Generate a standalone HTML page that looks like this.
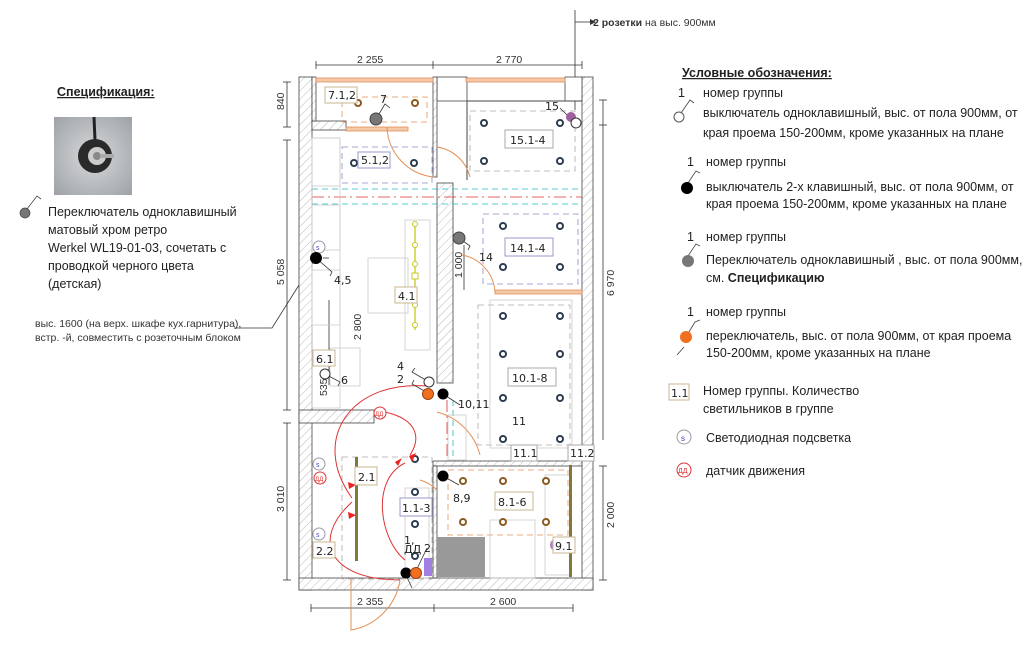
<!DOCTYPE html>
<html><head><meta charset="utf-8"><style>
body{margin:0;background:#fff;}
svg{display:block;font-family:"Liberation Sans","Noto Sans CJK SC",sans-serif;}
.t{font-size:12.5px;fill:#222;font-family:"Liberation Sans",sans-serif;}
.d{font-size:10.5px;fill:#333;font-family:"Liberation Sans",sans-serif;}
.lb{font-size:11px;fill:#222;font-family:"DejaVu Sans",sans-serif;}
</style></head><body>
<svg width="1024" height="645" viewBox="0 0 1024 645" xmlns="http://www.w3.org/2000/svg">
<defs>
<pattern id="h" width="6" height="6" patternUnits="userSpaceOnUse" patternTransform="rotate(45)">
<rect width="6" height="6" fill="#fff"/><line x1="0" y1="0" x2="0" y2="6" stroke="#aaa" stroke-width="0.8"/></pattern>
<radialGradient id="ph" cx="0.5" cy="0.5" r="0.7"><stop offset="0" stop-color="#d8dadc"/><stop offset="1" stop-color="#9ea2a6"/></radialGradient>
</defs>

<!-- LEFT spec -->
<text x="57" y="96" class="t" font-weight="bold" text-decoration="underline">Спецификация:</text>
<rect x="54" y="117" width="78" height="78" fill="url(#ph)"/>
<line x1="94" y1="117" x2="95" y2="140" stroke="#222" stroke-width="3"/>
<circle cx="95" cy="156" r="17" fill="#2a2a2a"/>
<circle cx="97" cy="156" r="9" fill="#ccc"/>
<circle cx="97" cy="156" r="4" fill="#888"/>
<rect x="100" y="154" width="14" height="4" fill="#aaa"/>
<circle cx="25" cy="213" r="5" fill="#777" stroke="#444" stroke-width="0.7"/>
<polyline points="27,209 37,196 41,199" fill="none" stroke="#444" stroke-width="0.8"/>
<text class="t"><tspan x="48" y="216">Переключатель одноклавишный</tspan><tspan x="48" y="234">матовый хром ретро</tspan><tspan x="48" y="252">Werkel WL19-01-03, сочетать с</tspan><tspan x="48" y="270">проводкой черного цвета</tspan><tspan x="48" y="288">(детская)</tspan></text>
<text class="d" font-size="10"><tspan x="35" y="327">выс. 1600 (на верх. шкафе кух.гарнитура),</tspan><tspan x="35" y="341">встр. -й, совместить с розеточным блоком</tspan></text>
<polyline points="234,328 272,328 316,258" fill="none" stroke="#333" stroke-width="0.8"/>

<!-- dimensions -->
<g stroke="#333" stroke-width="0.8" fill="none">
<line x1="316" y1="65" x2="582" y2="65"/>
<line x1="316" y1="61" x2="316" y2="69"/><line x1="433" y1="61" x2="433" y2="69"/><line x1="582" y1="61" x2="582" y2="69"/>
<line x1="311" y1="608" x2="573" y2="608"/>
<line x1="311" y1="604" x2="311" y2="612"/><line x1="434" y1="604" x2="434" y2="612"/><line x1="573" y1="604" x2="573" y2="612"/>
<line x1="287" y1="82" x2="287" y2="127"/><line x1="287" y1="140" x2="287" y2="410"/><line x1="287" y1="423" x2="287" y2="580"/>
<line x1="283" y1="82" x2="291" y2="82"/><line x1="283" y1="127" x2="291" y2="127"/><line x1="283" y1="140" x2="291" y2="140"/><line x1="283" y1="410" x2="291" y2="410"/><line x1="283" y1="423" x2="291" y2="423"/><line x1="283" y1="580" x2="291" y2="580"/>
<line x1="603" y1="100" x2="603" y2="125"/><line x1="603" y1="125" x2="603" y2="440"/><line x1="603" y1="466" x2="603" y2="580"/>
<line x1="599" y1="100" x2="607" y2="100"/><line x1="599" y1="125" x2="607" y2="125"/><line x1="599" y1="466" x2="607" y2="466"/><line x1="599" y1="580" x2="607" y2="580"/>
<line x1="329" y1="300" x2="329" y2="385"/><line x1="323" y1="258" x2="329" y2="258"/>
<line x1="464" y1="245" x2="464" y2="290"/>
<line x1="575" y1="10" x2="575" y2="110"/><line x1="575" y1="22" x2="590" y2="22"/>
</g>
<polygon points="590,19 596,22 590,25" fill="#333"/>
<text x="593" y="26" class="d"><tspan font-weight="bold">2 розетки</tspan> на выс. 900мм</text>
<text x="357" y="63" class="d">2 255</text><text x="496" y="63" class="d">2 770</text>
<text x="357" y="605" class="d">2 355</text><text x="490" y="605" class="d">2 600</text>
<text class="d" transform="translate(284,110) rotate(-90)">840</text>
<text class="d" transform="translate(284,285) rotate(-90)">5 058</text>
<text class="d" transform="translate(284,512) rotate(-90)">3 010</text>
<text class="d" transform="translate(614,296) rotate(-90)">6 970</text>
<text class="d" transform="translate(614,528) rotate(-90)">2 000</text>
<text class="d" transform="translate(591,122) rotate(-90)">450</text>
<text class="d" transform="translate(361,340) rotate(-90)">2 800</text>
<text class="d" transform="translate(462,278) rotate(-90)">1 000</text>
<text class="d" transform="translate(327,396) rotate(-90)">535</text>

<!-- walls -->
<g fill="url(#h)" stroke="#444" stroke-width="0.8">
<rect x="299" y="77" width="13" height="513"/>
<rect x="582" y="77" width="11" height="513"/>
<rect x="299" y="578" width="294" height="12"/>
<rect x="312" y="121" width="34" height="9"/>
<rect x="437" y="77" width="30" height="24" fill="#fff"/>
<rect x="437" y="183" width="16" height="200"/>
<rect x="299" y="410" width="75" height="13"/>
<rect x="433" y="461" width="149" height="5"/>
<rect x="433" y="466" width="4" height="112"/>
<rect x="433" y="77" width="4" height="100"/>
<rect x="312" y="77" width="4" height="44"/>
<rect x="565" y="77" width="17" height="24" fill="#fff"/>
</g>
<line x1="467" y1="101" x2="582" y2="101" stroke="#444"/>
<line x1="467" y1="101" x2="467" y2="180" stroke="#444"/>
<!-- orange window strips -->
<g fill="#f3c9a8" stroke="#e39056" stroke-width="0.8">
<rect x="316" y="78" width="117" height="4"/><rect x="466" y="78" width="99" height="4"/>
<rect x="346" y="127" width="62" height="4"/><rect x="495" y="290" width="87" height="4"/>
</g>
<!-- doors -->
<g fill="none" stroke="#e39056" stroke-width="1">
<path d="M387,127 A52,52 0 0 0 434,177"/><path d="M437,147 A40,40 0 0 1 470,177"/>
<path d="M462,255 A40,40 0 0 1 495,292"/>
<path d="M437,412 A60,60 0 0 1 480,455"/>
<path d="M437,490 A40,40 0 0 0 420,480"/>
<path d="M351,578 L351,630 A60,60 0 0 0 400,580"/>
</g>
<!-- dashed zones -->
<g fill="none" stroke-width="0.8" stroke-dasharray="6,4">
<rect x="342" y="97" width="85" height="25" stroke="#e39056"/>
<rect x="342" y="147" width="90" height="36" stroke="#8a8ac8"/>
<rect x="470" y="111" width="105" height="60" stroke="#aaa"/>
<rect x="483" y="214" width="95" height="70" stroke="#8a8ac8"/>
<rect x="478" y="305" width="92" height="140" stroke="#aaa"/>
<rect x="448" y="470" width="120" height="65" stroke="#e39056"/>
<rect x="342" y="457" width="90" height="122" stroke="#aaa"/>
<line x1="312" y1="189" x2="582" y2="189" stroke="#2bb"/>
<line x1="312" y1="204" x2="582" y2="204" stroke="#2bb"/>
<line x1="312" y1="197" x2="582" y2="197" stroke="#d33" stroke-dasharray="12,4,2,4"/>
<line x1="447" y1="400" x2="447" y2="460" stroke="#d33" stroke-dasharray="12,4,2,4"/>
<line x1="453" y1="400" x2="453" y2="460" stroke="#2bb"/>
</g>
<!-- furniture (light) -->
<g fill="none" stroke="#ccc" stroke-width="0.8">
<rect x="312" y="138" width="28" height="270"/><rect x="312" y="138" width="28" height="48"/>
<rect x="312" y="205" width="28" height="45"/><rect x="312" y="270" width="28" height="55"/>
<rect x="368" y="258" width="40" height="55"/><rect x="405" y="220" width="25" height="130"/>
<rect x="330" y="348" width="30" height="38"/>
<rect x="490" y="300" width="82" height="148"/><rect x="448" y="415" width="18" height="45"/>
<rect x="545" y="475" width="25" height="100"/><rect x="490" y="520" width="45" height="58"/>
<rect x="405" y="488" width="24" height="90"/>
</g>
<rect x="437" y="537" width="48" height="40" fill="#999"/>
<rect x="355" y="457" width="3" height="104" fill="#7d7a3a"/>
<rect x="569" y="465" width="3" height="112" fill="#7d7a3a"/>
<line x1="415" y1="225" x2="415" y2="330" stroke="#c8c820" stroke-width="1.3"/>
<g fill="#fff" stroke="#c8c820"><circle cx="415" cy="224" r="2.5"/><circle cx="415" cy="245" r="2.5"/><circle cx="415" cy="264" r="2.5"/><rect x="412" y="273" width="6" height="6"/><circle cx="415" cy="305" r="2.5"/><circle cx="415" cy="325" r="2.5"/></g>

<!-- light dots -->
<g fill="#fff" stroke="#2d3d50" stroke-width="2">
<circle cx="484" cy="123" r="3"/><circle cx="560" cy="123" r="3"/><circle cx="484" cy="161" r="3"/><circle cx="560" cy="161" r="3"/>
<circle cx="503" cy="226" r="3"/><circle cx="560" cy="226" r="3"/><circle cx="503" cy="267" r="3"/><circle cx="560" cy="267" r="3"/>
<circle cx="503" cy="316" r="3"/><circle cx="560" cy="316" r="3"/><circle cx="503" cy="354" r="3"/><circle cx="560" cy="354" r="3"/>
<circle cx="503" cy="398" r="3"/><circle cx="560" cy="398" r="3"/><circle cx="503" cy="439" r="3"/><circle cx="560" cy="439" r="3"/>
<circle cx="354" cy="163" r="3"/><circle cx="414" cy="163" r="3"/>
<circle cx="415" cy="459" r="3"/><circle cx="415" cy="492" r="3"/><circle cx="415" cy="524" r="3"/><circle cx="415" cy="556" r="3"/>
</g>
<g fill="#fff" stroke="#8a5a20" stroke-width="2">
<circle cx="358" cy="103" r="3"/><circle cx="415" cy="103" r="3"/>
<circle cx="463" cy="481" r="3"/><circle cx="503" cy="481" r="3"/><circle cx="546" cy="481" r="3"/>
<circle cx="463" cy="522" r="3"/><circle cx="503" cy="522" r="3"/><circle cx="546" cy="522" r="3"/>
</g>

<!-- motion arcs -->
<g fill="none" stroke="#d33" stroke-width="1">
<path d="M427,386 C350,380 310,440 352,498"/>
<path d="M385,412 C420,420 420,440 410,455"/>
<path d="M405,463 C370,480 380,540 405,560"/>
<path d="M352,502 C310,540 330,580 400,580"/>
</g>
<g fill="#e22"><polygon points="409,456 416,453 412,462"/><polygon points="395,462 402,458 398,466"/><polygon points="348,482 356,485 349,489"/><polygon points="348,512 356,515 349,519"/></g>
<circle cx="380" cy="413" r="6" fill="#fff" stroke="#d33"/><text x="375" y="416" font-size="6" fill="#d33">ДД</text>
<circle cx="320" cy="478" r="6" fill="#fff" stroke="#d33"/><text x="315" y="481" font-size="6" fill="#d33">ДД</text>
<g fill="#fff" stroke="#99a"><circle cx="319" cy="247" r="6"/><circle cx="319" cy="464" r="6"/><circle cx="319" cy="534" r="6"/></g>
<g font-size="7" fill="#44c"><text x="316" y="250">s</text><text x="316" y="467">s</text><text x="316" y="537">s</text></g>

<!-- switches -->
<g stroke="#333" stroke-width="0.8" fill="none">
<polyline points="376,119 385,104 390,108"/><polyline points="459,238 470,246 468,250"/>
<polyline points="316,258 332,272 330,276"/><polyline points="325,374 340,382 338,386"/>
<polyline points="429,382 412,372 415,368"/><polyline points="428,393 412,384 414,380"/>
<polyline points="443,394 460,405"/><polyline points="443,476 459,485"/>
<polyline points="405,573 412,588"/><polyline points="415,573 427,548"/>
<polyline points="575,123 560,108"/>
</g>
<circle cx="376" cy="119" r="6" fill="#777" stroke="#444"/>
<circle cx="459" cy="238" r="6" fill="#777" stroke="#444"/>
<circle cx="316" cy="258" r="6" fill="#000"/>
<circle cx="325" cy="374" r="5" fill="#fff" stroke="#333"/>
<circle cx="429" cy="382" r="5" fill="#fff" stroke="#333"/>
<circle cx="428" cy="394" r="5.5" fill="#f07020" stroke="#a04010"/>
<circle cx="443" cy="394" r="5.5" fill="#000"/>
<circle cx="443" cy="476" r="5.5" fill="#000"/>
<circle cx="406" cy="573" r="5.5" fill="#000"/>
<circle cx="416" cy="573" r="5.5" fill="#f07020" stroke="#a04010"/>
<circle cx="571" cy="117" r="5" fill="#a060a0"/>
<circle cx="576" cy="123" r="5" fill="#fff" stroke="#333"/>
<circle cx="556" cy="545" r="6" fill="#b080d0"/>
<rect x="424" y="558" width="8" height="18" fill="#a080e0"/>

<!-- labels -->
<g fill="#fff" stroke="#c9b690" stroke-width="1">
<rect x="325" y="87" width="32" height="16"/><rect x="358" y="152" width="32" height="16" stroke="#99c"/>
<rect x="505" y="130" width="48" height="18" stroke="#aaa"/><rect x="505" y="238" width="48" height="18" stroke="#99c"/>
<rect x="395" y="287" width="22" height="16"/><rect x="313" y="350" width="22" height="16"/>
<rect x="508" y="368" width="48" height="18" stroke="#aaa"/>
<rect x="511" y="445" width="26" height="16" stroke="#aaa"/><rect x="568" y="445" width="26" height="16" stroke="#aaa"/>
<rect x="355" y="467" width="22" height="18"/><rect x="400" y="498" width="32" height="18" stroke="#99c"/>
<rect x="495" y="492" width="38" height="18"/><rect x="553" y="537" width="22" height="16"/>
<rect x="313" y="542" width="22" height="16"/>
</g>
<g class="lb">
<text x="328" y="99">7.1,2</text><text x="361" y="164">5.1,2</text>
<text x="510" y="144">15.1-4</text><text x="510" y="252">14.1-4</text>
<text x="398" y="300">4.1</text><text x="316" y="363">6.1</text>
<text x="512" y="382">10.1-8</text><text x="513" y="457">11.1</text><text x="570" y="457">11.2</text>
<text x="358" y="481">2.1</text><text x="402" y="512">1.1-3</text><text x="498" y="506">8.1-6</text>
<text x="555" y="550">9.1</text><text x="316" y="555">2.2</text>
<text x="380" y="103">7</text><text x="545" y="110">15</text><text x="479" y="261">14</text>
<text x="334" y="284">4,5</text><text x="341" y="384">6</text><text x="397" y="370">4</text><text x="397" y="383">2</text>
<text x="458" y="408">10,11</text><text x="512" y="425">11</text><text x="453" y="502">8,9</text>
<text x="404" y="544">1,</text><text x="404" y="553">ДД</text><text x="424" y="552">2</text>
</g>

<!-- legend -->
<g class="t">
<text x="682" y="77" font-weight="bold" text-decoration="underline">Условные обозначения:</text>
<text x="678" y="97">1</text><text x="703" y="97">номер группы</text>
<text x="703" y="117">выключатель одноклавишный, выс. от пола 900мм, от</text>
<text x="703" y="137">края проема 150-200мм, кроме указанных на плане</text>
<text x="687" y="166">1</text><text x="706" y="166">номер группы</text>
<text x="706" y="191">выключатель 2-х клавишный, выс. от пола 900мм, от</text>
<text x="706" y="208">края проема 150-200мм, кроме указанных на плане</text>
<text x="687" y="241">1</text><text x="706" y="241">номер группы</text>
<text x="706" y="264">Переключатель одноклавишный , выс. от пола 900мм,</text>
<text x="706" y="282">см. <tspan font-weight="bold">Спецификацию</tspan></text>
<text x="687" y="316">1</text><text x="706" y="316">номер группы</text>
<text x="706" y="340">переключатель, выс. от пола 900мм, от края проема</text>
<text x="706" y="357">150-200мм, кроме указанных на плане</text>
<text x="703" y="395">Номер группы. Количество</text>
<text x="703" y="413">светильников в группе</text>
<text x="706" y="442">Светодиодная подсветка</text>
<text x="706" y="475">датчик движения</text>
</g>
<g stroke="#444" stroke-width="0.8" fill="none">
<polyline points="681,113 690,100 694,103"/><polyline points="688,183 696,171 700,173"/>
<polyline points="688,256 696,244 700,246"/><polyline points="677,355 684,347"/><polyline points="684,340 695,322 700,320"/>
</g>
<circle cx="679" cy="117" r="5" fill="#fff" stroke="#555"/>
<circle cx="687" cy="188" r="6" fill="#000"/>
<circle cx="688" cy="261" r="6" fill="#777"/>
<circle cx="686" cy="337" r="6" fill="#f07020"/>
<rect x="669" y="384" width="20" height="16" fill="#fff" stroke="#c9b690"/><text x="671" y="397" class="lb">1.1</text>
<circle cx="684" cy="437" r="7" fill="#fff" stroke="#99a"/><text x="681" y="441" font-size="8" fill="#44c">s</text>
<circle cx="684" cy="470" r="7" fill="#fff" stroke="#d33"/><text x="678" y="473" font-size="7" fill="#d33">ДД</text>
</svg>
</body></html>
